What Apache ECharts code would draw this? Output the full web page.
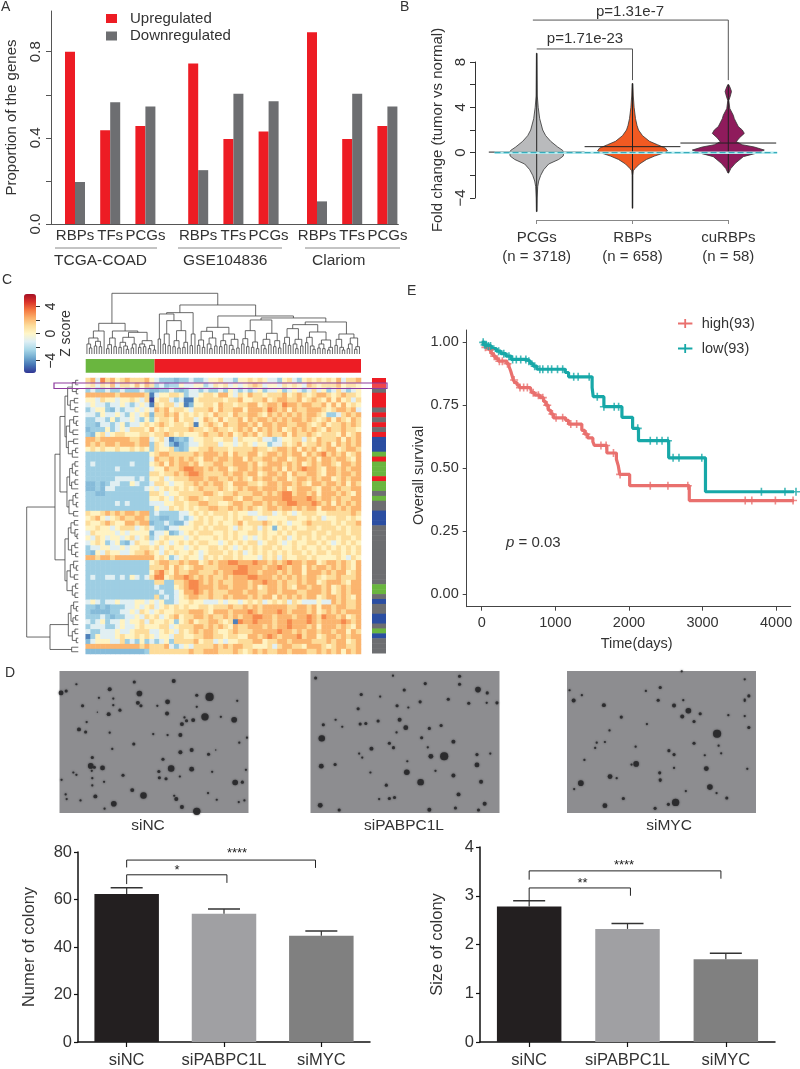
<!DOCTYPE html>
<html><head><meta charset="utf-8">
<style>html,body{margin:0;padding:0;background:#fff}#c{width:800px;height:1069px}</style>
<script src="https://cdn.jsdelivr.net/npm/echarts@6/dist/echarts.min.js"></script>
</head><body><div id="c"></div>
<script>
// ---------- Panel A ----------
const aCategories = ['RBPs','TFs','PCGs','RBPs','TFs','PCGs','RBPs','TFs','PCGs'];
const aUp   = [0.80,0.435,0.455,0.745,0.395,0.43,0.89,0.395,0.455];
const aDown = [0.195,0.565,0.545,0.25,0.605,0.57,0.105,0.605,0.545];
const aSlots = [6,14,22,34,42,50,61,69,77];
// ---------- Panel B ----------
const bLabels = ['PCGs\n(n = 3718)','RBPs\n(n = 658)','cuRBPs\n(n = 58)'];
const vPcgV = [8.77,5,4,3,2,1.5,1,0.5,0.2,0,-0.3,-0.6,-1,-1.5,-2,-2.5,-3,-4,-5.2];
const vPcgW = [0.3,0.6,1.5,3,6,9,14,21,26,27,26.5,22,12,7,4,2,1,0.5,0.3];
const vRbpV = [6.1,5,4,3,2.4,2,1.5,1,0.7,0.4,0.15,0,-0.3,-0.6,-1,-1.4,-1.6,-2,-4.9];
const vRbpW = [0.4,0.8,1.6,3,4.5,6,10,17,25,33,35,32,22,14,7,2.5,0.8,0.4,0.3];
const vCuV = [6,5.7,5.4,5,4.6,3.9,3.3,3,2.3,2,1.7,1.3,0.97,0.7,0.5,0.23,0,-0.35,-0.94,-1.4,-1.8];
const vCuW = [0.5,2,3.2,2,0.5,1.5,5,6,10,14,16,11,8,14,26,36,30,15,7,2.5,0.3];
const bMeans = [0.05,0.53,0.85];
// ---------- Panel C ----------
const heatGreen = [
"67486756766675","56465746657576","34334334333432","77777767777761","55465545565460","45443445434541",
"34553243445454","44354454354562","33443534454353","33244345344565","23335345466657","32564566555665",
"77677777766774","76767767776773","56565565565653",
"33333333333335","33333333333334","34333333343335","33333343333334","33333333333336","33333344443435",
"22323443354334","22324433333345","33223333333336","33333333333335","33333343433334","33333333333333",
"65567676776773","56754567667763","65567655776772","55655456664564","46555545455552","54654554564563",
"45653453246554","34455445455665","32546554456676","77677677777777",
"33333333333335","33333333333336","33333333333335","34334434354346","33333333333333","33333333333333","33333333333333","33333333333333",
"45434454445545","33232333445456","32222334454654","33343233445465","43453445455646","34443345445655","43344454456664","13544456556565","24555446343534",
"77777777777676","22222222222236"];
const heatRed = [
"433323 343345 564435 565654 435643 565656 574667","342335 445534 656454 567645 546565 476566 675665",
"233432 344343 343543 434534 453454 346453 464345","455665 344566 577546 576656 667567 656776 567665",
"566434 115666 665667 556675 677667 567657 575646","656645 125566 576656 677567 768776 776675 757565",
"767566 546667 576677 577768 767576 677765 677674","667675 656565 766576 677657 676767 677653 346767",
"566575 664576 575667 576776 767677 676567 576576","676566 561567 657667 767577 677667 765675 667676",
"565666 676656 766567 675767 675676 767657 667665","667656 555676 676756 767567 667576 676566 657567",
"564123 245566 556646 555644 345566 465766 675767","654212 344566 645545 654553 446567 566767 576767",
"655632 355667 666566 667665 677675 767567 756776",
"677666 667677 767576 677567 767677 576786 767567","766767 676577 677677 576677 677567 767577 677657",
"675767 767566 776677 767567 776767 567677 657767","557667 887767 677567 767677 675767 877657 767677",
"656676 788766 667677 677567 767576 677657 767767","564566 677767 766767 657677 677567 767677 567677",
"665455 667676 776577 766567 767767 657767 767576","456565 656766 676567 677677 767567 776577 676677",
"654556 666677 656676 667767 678867 767577 767657","565465 677656 667765 776677 778877 787677 676677",
"445566 566776 655677 667767 677887 778767 576767","544656 565667 766767 676567 767767 677577 767677",
"433334 456565 666565 544566 456545 666556 666676","322334 345656 556565 665445 555665 565645 566565",
"334322 456656 565567 566676 565455 676666 565667","332445 556565 666546 556465 256565 566566 656566",
"445234 565666 556565 566565 565656 665665 666566","456555 456555 656565 454565 656456 565656 656656",
"565456 565665 545656 566456 654565 566565 456565","645655 456556 656545 656566 565565 655656 565656",
"546565 565456 665656 456565 656566 565665 665656","565345 655465 656656 555465 646556 656555 565465",
"677667 677567 677887 778776 767877 677567 767657","667576 567766 677778 877767 787677 576776 767657",
"786576 677666 767788 877677 767677 577767 677567","885677 876767 667677 788777 676767 677656 676667",
"663366 788767 676677 767787 767667 677567 776577","433356 788777 677677 767567 767657 767767 567677",
"343345 778767 666777 677667 767776 677767 567677","634345 677667 667677 767677 576767 677567 767657",
"453345 565544 454554 565645 656465 444544 767667","456565 655665 666766 767677 777667 767577 677667",
"565566 677765 777677 787677 787677 767567 676777","645675 667767 667676 778877 677767 787687 767567",
"556535 675667 765618 778777 677877 787677 778767","566456 667767 676576 677767 677877 767577 767657",
"456546 567677 655676 667777 787767 677677 677576","455466 556677 665665 577678 767778 677567 767677",
"345366 667566 454556 667756 677677 776667 677567","667434 546666 767677 665556 467766 577765 677667",
"666666 676677 766676 567676 677677 766767 675767"];
const zLevels = [-5.5,-4.4,-3.1,-2.6,-1.1,0.15,1.15,2.2,3.1,4.4];
const colGroups = [[0,14,'#6ab63f'],[14,56,'#ed1c24']];
const rowClass = "RRkRRRkRkRkRBBBgRgggRggkgkkBBBkkkkkkkkkkkkggkBkkBBkgBkkk";
const rowColors = {R:'#ed1c24',k:'#6d6e71',B:'#2b4ea2',g:'#6ab63f'};
const treeTop = [182,
 [92,
  [69,[48,[30,0,[18,0,0]],[38,[24,0,0],[22,0,0]]],0],
  [69,[48,[28,[16,0,0],0],[22,0,0]],[65,[50,[35,[20,0,0],[24,0,[14,0,0]]],[30,[18,0,0],0]],[40,[30,[20,0,0],[22,0,0]],[26,[16,0,0],[12,0,0]]]]]],
 [147,
  [124,[120,[45,0,0],[100,[60,[30,0,0],[25,0,0]],[70,[40,[22,0,0],[18,0,0]],[35,[20,0,0],0]]]],[60,[25,0,0],0]],
  [114,
   [80,[68,[42,[26,0,0],[20,0,0]],[48,[30,0,[16,0,0]],[24,0,0]]],[60,[40,[22,0,0],[28,0,0]],[44,[26,0,[14,0,0]],[18,0,0]]]],
   [108,[102,[70,[46,[30,0,0],[22,0,0]],[36,[20,0,0],[16,0,0]]],[62,[44,[26,0,[16,0,0]],[28,0,0]],[40,[22,0,0],[18,0,0]]]],
    [96,[88,[76,[50,[32,0,0],[26,0,0]],[44,[30,0,[16,0,0]],[24,0,0]]],[66,[50,[34,0,0],[24,0,[14,0,0]]],[42,[30,[18,0,0],[16,0,0]],[20,[12,0,0],0]]]],
     [60,[44,[26,0,0],[20,0,[12,0,0]]],[48,[30,[16,0,0],0],[22,[14,0,0],0]]]]]]]];
const treeLeft = [155,
 [70,
  [55,
   [40,[32,[18,[8,0,0],[6,0,0]],[24,[12,0,0],[10,0,0]]],[36,[26,[14,0,[6,0,0]],[16,0,0]],[30,[14,0,0],[18,[8,0,0],0]]]],
   [34,[26,[18,[10,0,0],[8,0,0]],[20,[10,0,0],0]],[28,[16,[8,0,0],[6,0,0]],[14,0,0]]]],
  [40,[30,[22,[12,0,0],[10,0,[4,0,0]]],[20,[10,0,0],[8,0,0]]],[34,[24,[14,0,[6,0,0]],[12,0,0]],[18,[8,0,0],[10,0,0]]]]],
 [85,[30,[22,[14,0,[6,0,0]],[16,[8,0,0],0]],[18,[10,0,0],[6,0,0]]],[20,0,0]]];
// ---------- Panel D ----------
const dCategories = ['siNC','siPABPC1L','siMYC'];
const colonyCount = [62.3,54,44.7];
const colonyCountTop = [65,56,46.7];
const colonySize = [2.78,2.32,1.7];
const colonySizeTop = [2.9,2.43,1.82];
const spotsNC = [[120,98,5],[130,92,3],[215,87,4],[263,65,3],[340,62,4],[150,72,2],[273,100,6],[222,115,2],[194,113,2],[410,110,9],[385,105,3],[162,137,3],[222,135,2],[270,128,4],[276,137,3],[328,125,5],[308,137,2],[385,140,2],[464,122,2],[235,150,3],[213,162,4],[191,156,1],[327,160,4],[361,172,2],[401,170,8],[378,180,4],[365,182,3],[356,192,4],[458,179,6],[432,170,2],[170,186,2],[155,208,4],[168,216,3],[215,218,2],[300,222,2],[328,225,2],[353,225,4],[468,248,2],[483,233,2],[220,267,2],[262,252,3],[375,270,4],[353,277,4],[408,283,3],[422,270,1],[181,293,3],[319,298,3],[178,318,6],[185,322,3],[201,324,5],[180,333,2],[335,326,7],[375,328,5],[311,335,3],[415,336,2],[481,330,2],[121,360,2],[144,338,2],[241,346,3],[312,354,3],[325,357,3],[352,350,2],[181,355,2],[204,366,2],[181,377,2],[460,368,6],[474,367,3],[259,391,4],[281,407,7],[129,404,2],[131,418,2],[187,410,4],[158,422,2],[341,408,2],[345,418,4],[407,400,2],[424,420,2],[467,427,2],[478,422,2],[223,432,6],[205,447,2],[356,442,4],[385,455,8],[150,345,2]];
const spotsPABP = [[616,53,3],[767,46,2],[897,48,3],[897,72,3],[830,70,3],[705,103,3],[742,109,2],[789,89,3],[933,88,6],[951,98,3],[820,125,3],[875,117,3],[915,129,3],[950,128,2],[970,128,3],[775,137,3],[797,142,2],[699,146,3],[780,179,4],[792,203,5],[738,183,3],[703,192,3],[714,190,3],[631,194,3],[655,179,2],[668,200,2],[838,205,3],[861,196,3],[774,217,2],[823,233,3],[885,245,4],[628,235,7],[760,250,3],[768,263,3],[725,266,4],[701,281,2],[707,293,2],[841,289,5],[867,289,9],[835,262,2],[957,281,2],[931,284,3],[795,304,2],[931,315,5],[627,319,5],[654,314,3],[794,337,6],[723,338,2],[885,347,4],[821,367,7],[939,366,4],[754,376,3],[895,404,4],[770,413,3],[760,416,3],[740,418,2],[625,437,5],[662,451,3],[838,450,4],[889,445,3],[934,451,3],[946,432,4],[850,333,2]];
const spotsMYC = [[1119,121,4],[1135,105,2],[1111,90,2],[1178,135,4],[1212,171,3],[1260,92,2],[1288,82,3],[1284,120,3],[1315,136,4],[1333,120,2],[1343,152,6],[1331,169,4],[1366,161,3],[1354,184,3],[1262,192,2],[1189,211,2],[1164,248,2],[1180,246,2],[1161,264,2],[1399,221,9],[1354,250,3],[1402,257,2],[1305,272,3],[1315,284,3],[1461,202,3],[1453,118,2],[1461,107,3],[1453,122,2],[1453,57,2],[1421,165,2],[1453,168,2],[1241,312,6],[1232,314,2],[1378,326,5],[1315,324,2],[1287,339,3],[1288,360,3],[1458,327,2],[1190,350,5],[1203,355,2],[1288,363,2],[1133,370,6],[1120,388,2],[1385,382,6],[1338,394,2],[1398,400,2],[1418,415,3],[1216,416,3],[1180,438,5],[1318,428,8],[1304,434,3],[1278,446,3],[1140,300,2],[1330,33,2],[1240,260,2],[1375,286,2],[1407,280,2]];
// ---------- Panel E ----------
const highCurve = [[0,1],[30,.99],[60,.98],[100,.97],[130,.955],[160,.945],[190,.935],[225,.925],[340,.915],[370,.905],[395,.885],[415,.865],[430,.85],[450,.84],[480,.83],[510,.82],[660,.815],[680,.80],[720,.79],[790,.78],[840,.765],[870,.75],[905,.73],[940,.715],[975,.70],[1140,.69],[1180,.675],[1360,.65],[1400,.635],[1440,.62],[1510,.605],[1530,.59],[1700,.56],[1830,.535],[1855,.51],[1875,.475],[2010,.43],[2820,.371],[4270,.371]];
const lowCurve = [[0,1],[40,.99],[90,.985],[130,.975],[200,.965],[260,.955],[330,.945],[400,.932],[610,.925],[660,.915],[700,.905],[750,.893],[1135,.88],[1180,.863],[1500,.82],[1515,.784],[1660,.744],[1905,.702],[2050,.658],[2130,.609],[2540,.541],[3040,.406],[4300,.406]];
const highCensor = [[50,.98],[110,.97],[170,.945],[240,.925],[280,.925],[350,.915],[440,.85],[520,.82],[570,.82],[620,.82],[700,.80],[770,.79],[830,.78],[890,.75],[960,.715],[1010,.70],[1100,.70],[1210,.675],[1290,.675],[1420,.635],[1620,.59],[1690,.59],[1790,.56],[1880,.475],[2290,.43],[2530,.43],[2800,.43],[3580,.371],[3670,.371],[3990,.371],[4230,.371]];
const lowCensor = [[20,1],[40,.99],[60,.99],[90,.985],[120,.985],[230,.965],[300,.955],[370,.945],[420,.932],[470,.932],[530,.932],[600,.932],[640,.925],[720,.905],[790,.893],[830,.893],[900,.893],[950,.893],[1030,.893],[1100,.893],[1250,.863],[1310,.863],[1460,.863],[1570,.784],[1660,.744],[1800,.744],[1860,.744],[2120,.658],[2290,.609],[2380,.609],[2450,.609],[2530,.609],[2600,.541],[2680,.541],[2990,.541],[3800,.406],[4120,.406],[4270,.406]];

// ---------- helpers ----------
const FONT = '"Liberation Sans", Arial, sans-serif';
const TXT = '#333';
const grids=[],xAxes=[],yAxes=[],series=[],graphics=[];
function addGrid(l,t,w,h,extra){grids.push(Object.assign({left:l,top:t,width:w,height:h,show:false,borderWidth:0},extra||{}));return grids.length-1;}
function addX(o){xAxes.push(o);return xAxes.length-1;}
function addY(o){yAxes.push(o);return yAxes.length-1;}
function hidden(g,min,max,extra){return Object.assign({gridIndex:g,type:'value',show:false,min,max,splitLine:{show:false}},extra||{});}
function txt(x,y,s,size,o){o=o||{};graphics.push({type:'text',x,y,rotation:o.rot||0,z:50,silent:true,style:{text:s,fontFamily:FONT,fontSize:size,fill:o.fill||TXT,align:o.align||'center',textAlign:o.align||'center',verticalAlign:'middle',textVerticalAlign:'middle',fontStyle:o.fontStyle||'normal',rich:o.rich}});}
function ln(x1,y1,x2,y2,c){graphics.push({type:'line',z:50,silent:true,shape:{x1,y1,x2,y2},style:{stroke:c||'#888',lineWidth:1}});}
const minus=v=>String(v).replace('-','\u2212');

// ---------- Panel A ----------
{
 const g=addGrid(46.4,11,352,213);
 const cats=new Array(80).fill('');const up=new Array(80).fill(null);const dn=new Array(80).fill(null);
 aSlots.forEach((s,i)=>{cats[s]=aCategories[i];up[s]=aUp[i];dn[s]=aDown[i];});
 const x=addX({gridIndex:g,type:'category',data:cats,axisTick:{show:false},axisLine:{onZero:false,lineStyle:{color:'#555',width:1}},
   axisLabel:{interval:(i,v)=>v!=='',margin:4,fontFamily:FONT,fontSize:15,color:TXT}});
 const y=addY({gridIndex:g,type:'value',min:0,max:0.989,offset:-4.6,splitLine:{show:false},
   axisLine:{show:true,onZero:false,lineStyle:{color:'#555'}},axisTick:{show:true,length:5,lineStyle:{color:'#555'},customValues:[0,0.2,0.4,0.6,0.8]},
   axisLabel:{customValues:[0,0.4,0.8],formatter:v=>Number(v).toFixed(1),rotate:90,margin:8,fontFamily:FONT,fontSize:15,color:TXT},
   name:'Proportion of the genes',nameLocation:'middle',nameGap:32,nameTextStyle:{fontFamily:FONT,fontSize:15,color:TXT}});
 series.push({name:'Upregulated',type:'bar',xAxisIndex:x,yAxisIndex:y,data:up,barWidth:10,barGap:0,itemStyle:{color:'#ed1c24'}});
 series.push({name:'Downregulated',type:'bar',xAxisIndex:x,yAxisIndex:y,data:dn,barWidth:10,barGap:0,itemStyle:{color:'#6d6e71'}});
 ln(55,248,157,248);ln(178,248,282,248);ln(305,248,400,248);
 txt(54,261,'TCGA-COAD',15.5,{align:'left'});txt(183,261,'GSE104836',15.5,{align:'left'});txt(312,261,'Clariom',15.5,{align:'left'});
}
// ---------- Panel B ----------
{
 const g=addGrid(536.7,62,191.6,136);
 const x=addX({gridIndex:g,type:'value',min:1,max:3,interval:1,offset:22,splitLine:{show:false},
   axisLine:{show:true,onZero:false,lineStyle:{color:'#888'}},axisTick:{show:true,length:4,lineStyle:{color:'#888'}},
   axisLabel:{margin:8,formatter:v=>bLabels[v-1],lineHeight:19,fontFamily:FONT,fontSize:15,color:TXT}});
 const y=addY({gridIndex:g,type:'value',min:-4,max:8,interval:2,offset:61.7,splitLine:{show:false},
   axisLine:{show:true,onZero:false,lineStyle:{color:'#333'}},axisTick:{show:true,length:5,lineStyle:{color:'#333'}},
   axisLabel:{customValues:[-4,0,4,8],formatter:minus,rotate:90,margin:7,fontFamily:FONT,fontSize:15,color:TXT},
   name:'Fold change (tumor vs normal)',nameLocation:'middle',nameGap:30,nameTextStyle:{fontFamily:FONT,fontSize:15,color:TXT}});
 const violins=[[vPcgV,vPcgW,'#b9babc'],[vRbpV,vRbpW,'#f15a22'],[vCuV,vCuW,'#8f1b5c']];
 const pxPerUnit=95.8;
 series.push({type:'custom',xAxisIndex:x,yAxisIndex:y,clip:false,z:2,data:violins.map((v,i)=>[i+1,bMeans[i]]),
  renderItem:(p,api)=>{
    const i=p.dataIndex,c=i+1,V=violins[i],pts=[];
    V[0].forEach((v,k)=>pts.push(api.coord([c-V[1][k]/pxPerUnit,v])));
    for(let k=V[0].length-1;k>=0;k--)pts.push(api.coord([c+V[1][k]/pxPerUnit,V[0][k]]));
    const t=api.coord([c,V[0][0]]),b=api.coord([c,V[0][V[0].length-1]]);
    const mL=api.coord([c-0.5,bMeans[i]]),mR=api.coord([c+0.5,bMeans[i]]);
    return {type:'group',children:[
      {type:'polygon',shape:{points:pts},style:{fill:V[2],stroke:'#333',lineWidth:0.8}},
      {type:'line',shape:{x1:t[0],y1:t[1],x2:b[0],y2:b[1]},style:{stroke:'#222',lineWidth:1}},
      {type:'line',shape:{x1:mL[0],y1:mL[1],x2:mR[0],y2:mR[1]},style:{stroke:'#222',lineWidth:1}}
    ]};
  }});
 series.push({type:'custom',xAxisIndex:x,yAxisIndex:y,clip:false,z:3,data:[[0]],renderItem:(p,api)=>{
    const a=api.coord([0.56,0]),b=api.coord([3.51,0]);
    return {type:'group',children:[
      {type:'line',shape:{x1:a[0],y1:a[1],x2:b[0],y2:b[1]},style:{stroke:'#b8ecf0',lineWidth:2.5}},
      {type:'line',shape:{x1:a[0],y1:a[1],x2:b[0],y2:b[1]},style:{stroke:'#1f9fb0',lineWidth:1,lineDash:[6,3]}}]};
 }});
 // comparison brackets
 const br=[[0.96,3.0,11.7,6.4],[1,2,9.15,6.4]];
 series.push({type:'custom',xAxisIndex:x,yAxisIndex:y,clip:false,data:br,renderItem:(p,api)=>{
    const a=api.coord([api.value(0),api.value(2)]),b=api.coord([api.value(1),api.value(2)]),c=api.coord([api.value(1),api.value(3)]);
    return {type:'polyline',shape:{points:[a,b,c]},style:{stroke:'#555',lineWidth:1,fill:null}};
 }});
 txt(630,12,'p=1.31e-7',15);txt(585,39,'p=1.71e-23',15);
}
// ---------- Panel C ----------
{
 const g=addGrid(85.7,378,275.3,276);
 const cols=[...Array(56).keys()].map(String),rows=[...Array(56).keys()].map(String);
 const x=addX({gridIndex:g,type:'category',data:cols,show:false});
 const y=addY({gridIndex:g,type:'category',data:rows,show:false,inverse:true});
 const data=[];
 heatGreen.forEach((s,r)=>{const row=s+heatRed[r].replace(/\s/g,'');for(let c=0;c<row.length;c++)data.push([c,r,zLevels[+row[c]]]);});
 const heatIndex=series.length;window.heatIndex=heatIndex;
 series.push({type:'heatmap',xAxisIndex:x,yAxisIndex:y,data,progressive:0,itemStyle:{borderWidth:0},emphasis:{disabled:true}});
 // column annotation
 const g2=addGrid(85.7,359,275.3,13.7);
 const x2=addX(hidden(g2,0,56)),y2=addY(hidden(g2,0,1));
 series.push({type:'custom',xAxisIndex:x2,yAxisIndex:y2,data:colGroups.map(c=>[c[0],c[1]]),renderItem:(p,api)=>{
   const a=api.coord([api.value(0),1]),b=api.coord([api.value(1),0]);
   return {type:'rect',shape:{x:a[0],y:a[1],width:b[0]-a[0],height:b[1]-a[1]},style:{fill:colGroups[p.dataIndex][2]}};
 }});
 // row annotation
 const g3=addGrid(372,378,14,275);
 const x3=addX(hidden(g3,0,1)),y3=addY(hidden(g3,0,56,{inverse:true}));
 series.push({type:'custom',xAxisIndex:x3,yAxisIndex:y3,data:rowClass.split('').map((c,i)=>[i]),renderItem:(p,api)=>{
   const a=api.coord([0,api.value(0)]),b=api.coord([1,api.value(0)+1]);
   return {type:'rect',shape:{x:a[0],y:a[1],width:b[0]-a[0],height:b[1]-a[1]+0.5},style:{fill:rowColors[rowClass[p.dataIndex]]}};
 }});
 // dendrograms
 function layout(tree){let n=0;const merges=[];
  (function walk(node){ if(node===0){return [n++ +0.5,0];}
    const a=walk(node[1]),b=walk(node[2]);merges.push([a[0],a[1],b[0],b[1],node[0]]);return [(a[0]+b[0])/2,node[0]];})(tree);
  return {n,merges};}
 const top=layout(treeTop);
 const g4=addGrid(85.7,293.3,275,60.7);
 const x4=addX(hidden(g4,0,top.n)),y4=addY(hidden(g4,0,182));
 series.push({type:'custom',xAxisIndex:x4,yAxisIndex:y4,clip:false,data:top.merges,renderItem:(p,api)=>{
   const v=i=>api.value(i);
   return {type:'polyline',shape:{points:[api.coord([v(0),v(1)]),api.coord([v(0),v(4)]),api.coord([v(2),v(4)]),api.coord([v(2),v(3)])]},style:{stroke:'#444',lineWidth:0.8,fill:null}};
 }});
 const lft=layout(treeLeft);
 const g5=addGrid(26.7,378,51.6,276);
 const x5=addX(hidden(g5,0,155,{inverse:true})),y5=addY(hidden(g5,0,lft.n,{inverse:true}));
 series.push({type:'custom',xAxisIndex:x5,yAxisIndex:y5,clip:false,data:lft.merges,renderItem:(p,api)=>{
   const v=i=>api.value(i);
   return {type:'polyline',shape:{points:[api.coord([v(1),v(0)]),api.coord([v(4),v(0)]),api.coord([v(4),v(2)]),api.coord([v(3),v(2)])]},style:{stroke:'#444',lineWidth:0.8,fill:null}};
 }});
 // colour scale axis
 const g6=addGrid(24,294,12,79);
 addX(hidden(g6,0,1));
 addY({gridIndex:g6,type:'value',position:'right',min:-5.8,max:5.8,splitLine:{show:false},axisLine:{show:false,onZero:false},
   axisTick:{show:true,length:4,lineStyle:{color:'#333'},customValues:[-4,-2,0,2,4]},
   axisLabel:{customValues:[-4,0,4],formatter:minus,rotate:90,margin:8,fontFamily:FONT,fontSize:14,color:TXT},
   name:'Z score',nameLocation:'middle',nameRotate:90,nameGap:19,nameTextStyle:{fontFamily:FONT,fontSize:14,color:TXT}});
 graphics.push({type:'rect',z:60,silent:true,shape:{x:54,y:383,width:333,height:5.5},style:{fill:'rgba(255,255,255,0.18)',stroke:'#8e3a9e',lineWidth:1.2}});
}
// ---------- Panel D images ----------
[[59.5,117,486,spotsNC],[310.5,606,975,spotsPABP],[567,1106,1475,spotsMYC]].forEach(m=>{
 const g=addGrid(m[0],671,189,142,{show:true,backgroundColor:'#8d8d90'});
 const x=addX(hidden(g,m[1],m[2])),y=addY(hidden(g,32,460,{inverse:true}));
 series.push({type:'scatter',xAxisIndex:x,yAxisIndex:y,data:m[3],symbol:'circle',symbolSize:d=>d[2]*0.85+0.5,itemStyle:{color:'#29292b',opacity:0.92,shadowBlur:2,shadowColor:'#3a3a3c'},emphasis:{disabled:true}});
});
txt(148,826,'siNC',15.5);txt(404,826,'siPABPC1L',15.5);txt(669,826,'siMYC',15.5);
// ---------- Panel D bars ----------
function colonyPanel(l,w,t,h,ymax,interval,vals,tops,title,gap,brackets,stars){
 const g=addGrid(l,t,w,h);
 const barColors=['#231f20','#a0a0a3','#808080'];
 const x=addX({gridIndex:g,type:'category',data:dCategories,axisLine:{onZero:false,lineStyle:{color:'#111',width:1.5}},
   axisTick:{show:true,alignWithLabel:true,length:5,lineStyle:{color:'#111',width:1.2}},
   axisLabel:{interval:0,margin:10,fontFamily:FONT,fontSize:16.5,color:TXT}});
 const y=addY({gridIndex:g,type:'value',min:0,max:ymax,interval,splitLine:{show:false},
   axisLine:{show:true,onZero:false,lineStyle:{color:'#111',width:1.5}},axisTick:{show:true,length:4,lineStyle:{color:'#111',width:1.2}},
   axisLabel:{margin:6,fontFamily:FONT,fontSize:16.5,color:TXT},
   name:title,nameLocation:'middle',nameGap:gap,nameTextStyle:{fontFamily:FONT,fontSize:16.5,color:TXT}});
 series.push({type:'bar',xAxisIndex:x,yAxisIndex:y,barWidth:64.5,z:2,data:vals.map((v,i)=>({value:v,itemStyle:{color:barColors[i]}}))});
 const xv=addX(hidden(g,-0.5,2.5));
 series.push({type:'custom',xAxisIndex:xv,yAxisIndex:y,clip:false,z:3,data:vals.map((v,i)=>[i,v,tops[i]]),renderItem:(p,api)=>{
   const a=api.coord([api.value(0),api.value(1)]),b=api.coord([api.value(0),api.value(2)]);
   return {type:'group',children:[
     {type:'line',shape:{x1:a[0],y1:a[1],x2:b[0],y2:b[1]},style:{stroke:'#333',lineWidth:1.2}},
     {type:'line',shape:{x1:b[0]-16,y1:b[1],x2:b[0]+16,y2:b[1]},style:{stroke:'#333',lineWidth:1.5}}]};
 }});
 series.push({type:'custom',xAxisIndex:xv,yAxisIndex:y,clip:false,z:4,data:brackets,renderItem:(p,api)=>{
   const v=i=>api.value(i);
   return {type:'polyline',shape:{points:[api.coord([v(0),v(3)]),api.coord([v(0),v(2)]),api.coord([v(1),v(2)]),api.coord([v(1),v(4)])]},style:{stroke:'#222',lineWidth:1,fill:null}};
 }});
 stars.forEach(s=>txt(s[0],s[1],s[2],13,{fill:'#222'}));
}
colonyPanel(78,292,852,191,80,20,colonyCount,colonyCountTop,'Numer of colony',40,
  [[0,1.03,70.4,66.5,67],[0,1.94,76.6,73.5,73.3]],[[237,853,'****'],[177,870,'*']]);
colonyPanel(480,295,847,195,4,1,colonySize,colonySizeTop,'Size of colony',34,
  [[0,1.03,3.16,2.9,3.0],[0,1.95,3.51,3.33,3.35]],[[624,865,'****'],[582.5,883,'**']]);
// ---------- Panel E ----------
{
 const g=addGrid(466.7,330,324,276.7);
 const x=addX({gridIndex:g,type:'value',min:-204,max:4198,splitLine:{show:false},
   axisLine:{show:true,onZero:false,lineStyle:{color:'#444'}},axisTick:{show:true,length:4,lineStyle:{color:'#444'},customValues:[0,1000,2000,3000,4000]},
   axisLabel:{customValues:[0,1000,2000,3000,4000],formatter:v=>String(v),margin:9,fontFamily:FONT,fontSize:14.5,color:TXT},
   name:'Time(days)',nameLocation:'middle',nameGap:30,nameTextStyle:{fontFamily:FONT,fontSize:14.5,color:TXT,padding:[0,0,0,16]}});
 const y=addY({gridIndex:g,type:'value',min:-0.051,max:1.049,splitLine:{show:false},
   axisLine:{show:true,onZero:false,lineStyle:{color:'#444'}},axisTick:{show:true,length:4,lineStyle:{color:'#444'},customValues:[0,0.25,0.5,0.75,1]},
   axisLabel:{customValues:[0,0.25,0.5,0.75,1],formatter:v=>Number(v).toFixed(2),margin:8,fontFamily:FONT,fontSize:14.5,color:TXT},
   name:'Overall survival',nameLocation:'middle',nameGap:14,nameTextStyle:{fontFamily:FONT,fontSize:14.5,color:TXT,padding:[0,14,0,0]}});
 const cross='path://M4 0H6V10H4ZM0 4H10V6H0Z';
 const red='#e9706e',teal='#17a8a8';
 series.push({name:'high(93)',type:'line',step:'end',xAxisIndex:x,yAxisIndex:y,clip:false,data:highCurve,showSymbol:false,symbol:'none',lineStyle:{color:red,width:3.2},itemStyle:{color:red}});
 series.push({name:'low(93)',type:'line',step:'end',xAxisIndex:x,yAxisIndex:y,clip:false,data:lowCurve,showSymbol:false,symbol:'none',lineStyle:{color:teal,width:3.2},itemStyle:{color:teal}});
 series.push({type:'scatter',xAxisIndex:x,yAxisIndex:y,clip:false,data:highCensor,symbol:cross,symbolSize:8,itemStyle:{color:red},z:3});
 series.push({type:'scatter',xAxisIndex:x,yAxisIndex:y,clip:false,data:lowCensor,symbol:cross,symbolSize:8,itemStyle:{color:teal},z:3});
 txt(506,543,'{i|p} = 0.03',15,{align:'left',rich:{i:{fontStyle:'italic',fontSize:15,fontFamily:FONT,fill:TXT}}});
}
// panel letters
txt(1,7,'A',14,{align:'left'});txt(400,7,'B',14,{align:'left'});txt(2,280,'C',14,{align:'left'});txt(5,673,'D',14,{align:'left'});txt(407,291,'E',14,{align:'left'});

const chart=echarts.init(document.getElementById('c'),null,{renderer:'canvas'});
chart.setOption({
 animation:false,backgroundColor:'#fff',textStyle:{fontFamily:FONT},
 grid:grids,xAxis:xAxes,yAxis:yAxes,series,
 legend:[
  {data:['Upregulated','Downregulated'],orient:'vertical',left:106,top:11,padding:0,itemWidth:11,itemHeight:9,itemGap:2.5,selectedMode:false,icon:'rect',
   textStyle:{fontFamily:FONT,fontSize:15,color:TXT,padding:[0,0,0,8]}},
  {data:[{name:'high(93)',icon:'path://M0 4H16V6H0ZM7 0H9V10H7Z'},{name:'low(93)',icon:'path://M0 4H16V6H0ZM7 0H9V10H7Z'}],orient:'vertical',left:678,top:316,padding:0,itemWidth:15,itemHeight:9,itemGap:10,selectedMode:false,
   textStyle:{fontFamily:FONT,fontSize:14.5,color:TXT,padding:[0,0,0,4]}}
 ],
 visualMap:[{type:'continuous',seriesIndex:window.heatIndex,min:-5.8,max:5.8,calculable:false,realtime:false,left:24,top:294,itemWidth:12,itemHeight:79,padding:0,text:['',''],showLabel:false,hoverLink:false,
   inRange:{color:['#313695','#4575b4','#74add1','#abd9e9','#dfeff4','#fff6c8','#fddc9a','#fbb06a','#f4763f','#d9322a','#a50f25']}}],
 graphic:{elements:graphics}
});
</script></body></html>
